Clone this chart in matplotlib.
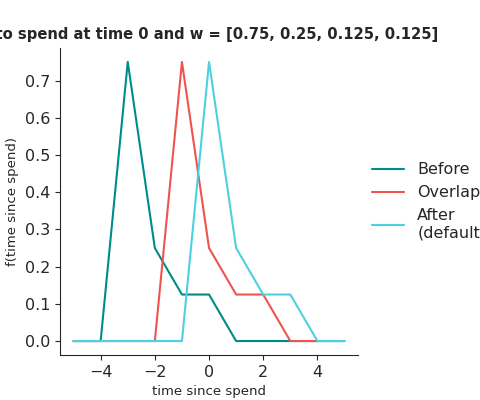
import matplotlib
matplotlib.use("Agg")
import matplotlib.pyplot as plt
import seaborn as sns

x = [-5, -4, -3, -2, -1, 0, 1, 2, 3, 4, 5]
before = [0, 0, 0.75, 0.25, 0.125, 0.125, 0, 0, 0, 0, 0]
x_overlap = [-5, -4, -3, -2, -1, 0, 1, 2, 3, 4]
overlap = [0, 0, 0, 0, 0.75, 0.25, 0.125, 0.125, 0, 0]
after = [0, 0, 0, 0, 0, 0.75, 0.25, 0.125, 0.125, 0, 0]
labels = ["Before", "Overlap", "After\n(default)"]
colors = ["#008B8B", "#EF5350", "#4DD0E1"]

sns.set_style("ticks")
plt.rcParams['font.family'] = ['DejaVu Sans']
fig = plt.figure(figsize=(4.8, 4.0), dpi=100)
ax = fig.add_axes([0.125, 0.1125, 0.621, 0.7675])
ax.plot(x, before, color=colors[0], label=labels[0])
ax.plot(x_overlap, overlap, color=colors[1], label=labels[1])
ax.plot(x, after, color=colors[2], label=labels[2])
ax.set_xlabel("time since spend", fontsize=9.5)
ax.set_ylabel("f(time since spend)", fontsize=9.5)
fig.text(0.9125, 0.895, "Response to spend at time 0 and w = [0.75, 0.25, 0.125, 0.125]",
         fontsize=10.6, fontweight="bold", ha="right", va="bottom", color="#262626")
ax.set_xticks([-4, -2, 0, 2, 4])
ax.set_yticks([0, 0.1, 0.2, 0.3, 0.4, 0.5, 0.6, 0.7])
ax.tick_params(labelsize=11.5)
sns.despine(ax=ax)
ax.legend(loc="center left", bbox_to_anchor=(1.0, 0.5), frameon=False, fontsize=11.5)
fig.savefig("out.png", dpi=100)
